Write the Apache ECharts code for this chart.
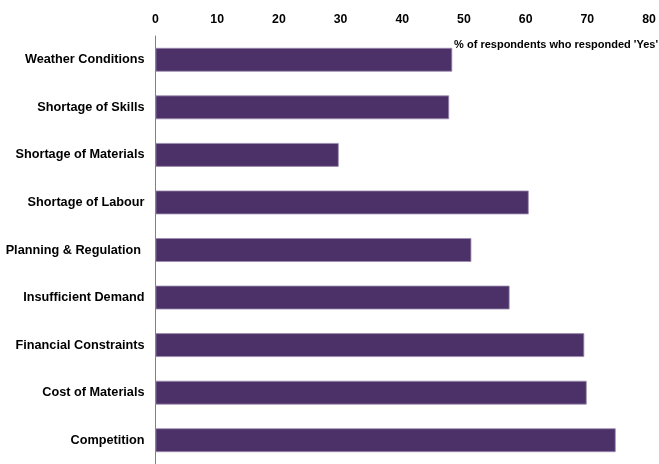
<!DOCTYPE html>
<html>
<head>
<meta charset="utf-8">
<script src="https://cdn.jsdelivr.net/npm/echarts@6/dist/echarts.min.js"></script>
<style>html,body{margin:0;padding:0;background:#fff}#c{width:659px;height:464px}</style>
</head>
<body>
<div id="c"></div>
<script>
var categories = ['Weather Conditions', 'Shortage of Skills', 'Shortage of Materials', 'Shortage of Labour', 'Planning & Regulation ', 'Insufficient Demand', 'Financial Constraints', 'Cost of Materials', 'Competition'];
var values = [48.1, 47.6, 29.7, 60.5, 51.2, 57.4, 69.5, 69.9, 74.6];
var axisTitle = "% of respondents who responded 'Yes'";

var chart = echarts.init(document.getElementById('c'));
chart.setOption({
  animation: false,
  title: {
    text: axisTitle,
    right: 1,
    top: 39,
    padding: 0,
    textStyle: { fontFamily: 'Liberation Sans, Arial, sans-serif', fontSize: 11, fontWeight: 'bold', color: '#000' }
  },
  grid: { left: 155.5, right: 10, top: 36, bottom: 0, containLabel: false },
  xAxis: {
    type: 'value',
    position: 'top',
    min: 0, max: 80, interval: 10,
    axisLine: { show: false },
    axisTick: { show: false },
    splitLine: { show: false },
    axisLabel: { margin: 10, fontFamily: 'Liberation Sans, Arial, sans-serif', fontSize: 12.3, fontWeight: 'bold', color: '#000' }
  },
  yAxis: {
    type: 'category',
    inverse: true,
    data: categories,
    axisLine: { show: true, lineStyle: { color: '#808080', width: 1 } },
    axisTick: { show: false },
    axisLabel: { margin: 11, fontFamily: 'Liberation Sans, Arial, sans-serif', fontSize: 12.7, fontWeight: 'bold', color: '#000' }
  },
  series: [{
    type: 'bar',
    data: values,
    barWidth: '50%',
    itemStyle: { color: '#4c3168', borderColor: '#9a8cb0', borderWidth: 0.8 }
  }]
});
</script>
</body>
</html>
